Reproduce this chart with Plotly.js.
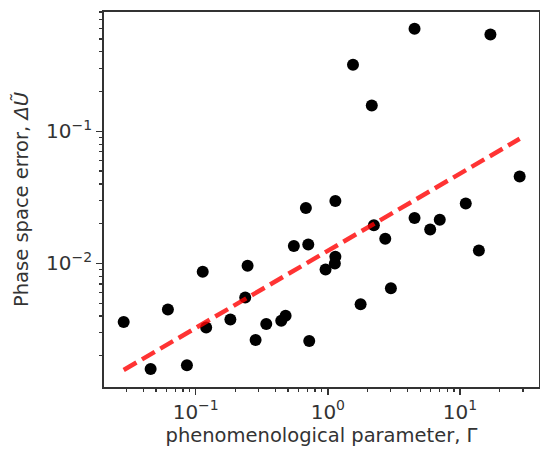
<!DOCTYPE html>
<html>
<head>
<meta charset="utf-8">
<script src="https://cdn.plot.ly/plotly-3.0.1.min.js"></script>
<style>html,body{margin:0;padding:0;background:#fff;}#chart{width:540px;height:452px;}</style>
</head>
<body>
<div id="chart"></div>
<script>
// phenomenological parameter Γ
const gammaVals = [0.0285, 0.0456, 0.0616, 0.0858, 0.113, 0.120, 0.183, 0.247, 0.237, 0.284,
  0.342, 0.444, 0.479, 0.723, 0.553, 0.711, 0.682, 1.14, 0.961, 1.14,
  1.13, 2.23, 2.72, 1.77, 3.00, 4.53, 5.95, 7.03, 11.06, 13.9,
  28.3, 4.53, 17.0, 1.55, 2.15];
// phase space error ΔŨ
const errorVals = [0.00360, 0.00159, 0.00449, 0.00170, 0.00865, 0.00328, 0.00377, 0.00959, 0.00553, 0.00263,
  0.00348, 0.00368, 0.00402, 0.00259, 0.01358, 0.01393, 0.0263, 0.0297, 0.00901, 0.01122,
  0.0100, 0.01948, 0.01535, 0.00492, 0.00650, 0.0221, 0.01807, 0.0214, 0.0284, 0.01254,
  0.0455, 0.597, 0.541, 0.319, 0.157];
// power-law fit: error = fitA * Γ^fitB
const fitA = 0.01247;
const fitB = 0.584;

// tick labels
const xTickVals = [0.1, 1, 10];
const xTickText = ['10<sup>−1</sup>', '10<sup>0</sup>', '10<sup>1</sup>'];
const yTickVals = [0.01, 0.1];
const yTickText = ['10<sup>−2</sup>', '10<sup>−1</sup>'];

const xMin = Math.min(...gammaVals), xMax = Math.max(...gammaVals);
const fitX = [xMin, xMax];
const fitY = fitX.map(x => fitA * Math.pow(x, fitB));

function mkFont(size) { return {family: 'DejaVu Sans, sans-serif', size: size, color: '#333333'}; }

const traces = [
  {x: gammaVals, y: errorVals, type: 'scatter', mode: 'markers',
   marker: {color: '#000000', size: 12, line: {width: 0}}, hoverinfo: 'skip'},
  {x: fitX, y: fitY, type: 'scatter', mode: 'lines',
   line: {color: 'rgba(255,0,0,0.8)', width: 4.5, dash: '14.8px,6.4px'}, hoverinfo: 'skip'}
];

function axis(range, tv, tt, titleText, standoff) {
  return {
    type: 'log', range: range, showgrid: false, zeroline: false,
    showline: true, linecolor: '#333333', linewidth: 1.8, mirror: true,
    ticks: 'outside', ticklen: 6, tickwidth: 1.5, tickcolor: '#333333',
    tickmode: 'array', tickvals: tv, ticktext: tt,
    tickfont: mkFont(20),
    minor: {ticks: 'outside', ticklen: 3.5, tickwidth: 1.2, tickcolor: '#333333', dtick: 'D1', showgrid: false},
    title: {text: titleText, font: mkFont(19.5), standoff: standoff}
  };
}

const layout = {
  width: 540, height: 452,
  margin: {l: 104, r: 1, t: 12, b: 65},
  paper_bgcolor: '#ffffff', plot_bgcolor: '#ffffff',
  showlegend: false,
  font: mkFont(16.5),
  xaxis: axis([-1.694, 1.598], xTickVals, xTickText, 'phenomenological parameter, Γ', 2),
  yaxis: axis([-2.935, -0.097], yTickVals, yTickText, 'Phase space error, <i>ΔŨ</i>', 12)
};

Plotly.newPlot('chart', traces, layout, {displayModeBar: false, staticPlot: true});
</script>
</body>
</html>
